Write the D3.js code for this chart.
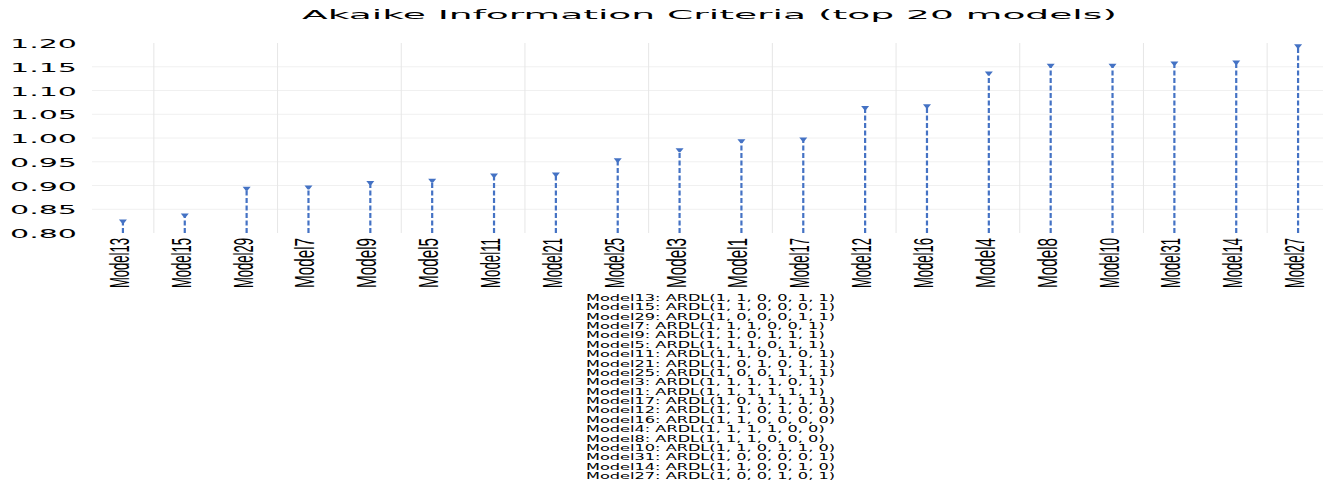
<!DOCTYPE html>
<html>
<head>
<meta charset="utf-8">
<script src="https://cdn.jsdelivr.net/npm/d3@7"></script>
<style>
  body { margin: 0; background: #fff; }
</style>
</head>
<body>
<div id="chart"></div>
<script>
// Models sorted by AIC (top 20)
const models = ["Model13", "Model15", "Model29", "Model7", "Model9", "Model5", "Model11", "Model21", "Model25", "Model3",
                "Model1", "Model17", "Model12", "Model16", "Model4", "Model8", "Model10", "Model31", "Model14", "Model27"];
const aicValues = [0.823, 0.836, 0.892, 0.895, 0.904, 0.909, 0.920, 0.922, 0.952, 0.973,
                   0.992, 0.996, 1.062, 1.066, 1.135, 1.151, 1.151, 1.156, 1.158, 1.192];
const specs = ["ARDL(1, 1, 0, 0, 1, 1)", "ARDL(1, 1, 0, 0, 0, 1)", "ARDL(1, 0, 0, 0, 1, 1)", "ARDL(1, 1, 1, 0, 0, 1)",
               "ARDL(1, 1, 0, 1, 1, 1)", "ARDL(1, 1, 1, 0, 1, 1)", "ARDL(1, 1, 0, 1, 0, 1)", "ARDL(1, 0, 1, 0, 1, 1)",
               "ARDL(1, 0, 0, 1, 1, 1)", "ARDL(1, 1, 1, 1, 0, 1)", "ARDL(1, 1, 1, 1, 1, 1)", "ARDL(1, 0, 1, 1, 1, 1)",
               "ARDL(1, 1, 0, 1, 0, 0)", "ARDL(1, 1, 0, 0, 0, 0)", "ARDL(1, 1, 1, 1, 0, 0)", "ARDL(1, 1, 1, 0, 0, 0)",
               "ARDL(1, 1, 0, 1, 1, 0)", "ARDL(1, 0, 0, 0, 0, 1)", "ARDL(1, 1, 0, 0, 1, 0)", "ARDL(1, 0, 0, 1, 0, 1)"];
const yTicks = [0.80, 0.85, 0.90, 0.95, 1.00, 1.05, 1.10, 1.15, 1.20];

const data = models.map((m, i) => ({ model: m, aic: aicValues[i], spec: specs[i] }));

const width = 1323, height = 488;
const margin = { top: 43, bottom: 255, left: 92, right: -6 };
const blue = "#4472C4";

const svg = d3.select("#chart")
    .append("svg")
    .attr("width", width)
    .attr("height", height);

// Scales
const x = d3.scaleBand()
    .domain(models)
    .range([margin.left, width - margin.right]);

const y = d3.scaleLinear()
    .domain([0.8, 1.2])
    .range([height - margin.bottom, margin.top]);

// Horizontal gridlines
svg.append("g")
    .selectAll("line")
    .data(yTicks.slice(1, -1))
    .enter()
    .append("line")
    .attr("x1", margin.left)
    .attr("x2", width)
    .attr("y1", d => y(d))
    .attr("y2", d => y(d))
    .attr("stroke", "#f0f0f0")
    .attr("stroke-width", 1);

// Vertical gridlines every second category
svg.append("g")
    .selectAll("line")
    .data(models.filter((m, i) => i % 2 === 0))
    .enter()
    .append("line")
    .attr("x1", d => x(d) + x.step())
    .attr("x2", d => x(d) + x.step())
    .attr("y1", y(1.2))
    .attr("y2", y(0.8))
    .attr("stroke", "#e6e6e6")
    .attr("stroke-width", 1);

// Y axis
const yAxis = svg.append("g")
    .attr("transform", `translate(77,0)`)
    .call(d3.axisLeft(y).tickValues(yTicks).tickFormat(d3.format(".2f")).tickSize(0).tickPadding(0));
yAxis.select(".domain").remove();
yAxis.selectAll("text")
    .attr("font-family", "DejaVu Sans")
    .attr("font-size", 13)
    .attr("fill", "#000")
    .attr("dy", "0.36em")
    .attr("textLength", 67)
    .attr("lengthAdjust", "spacingAndGlyphs");

// X axis labels (rotated, condensed)
const xAxis = svg.append("g")
    .attr("transform", `translate(0,${y(0.8)})`)
    .call(d3.axisBottom(x).tickSize(0).tickPadding(0));
xAxis.select(".domain").remove();
xAxis.selectAll("text")
    .attr("font-family", "'Liberation Sans', Arial, sans-serif")
    .attr("font-size", 28)
    .attr("fill", "#000")
    .attr("text-anchor", "end")
    .attr("dy", null)
    .attr("y", 0)
    .attr("transform", "translate(6,5) rotate(-90)")
    .attr("textLength", 50)
    .attr("lengthAdjust", "spacingAndGlyphs");

// Dashed drop lines
svg.append("g")
    .selectAll("line")
    .data(data)
    .enter()
    .append("line")
    .attr("x1", d => x(d.model) + x.bandwidth() / 2)
    .attr("x2", d => x(d.model) + x.bandwidth() / 2)
    .attr("y1", y(0.8))
    .attr("y2", d => y(d.aic))
    .attr("stroke", blue)
    .attr("stroke-width", 2.2)
    .attr("stroke-dasharray", "5,2.5");

// Triangle markers at the top
svg.append("g")
    .selectAll("path")
    .data(data)
    .enter()
    .append("path")
    .attr("transform", d => `translate(${x(d.model) + x.bandwidth() / 2},${y(d.aic)})`)
    .attr("d", "M-4,-2.5L4,-2.5L0.8,1.5L-0.8,1.5Z")
    .attr("fill", blue);

// Title
svg.append("text")
    .attr("x", 302)
    .attr("y", 18.5)
    .attr("font-family", "DejaVu Sans")
    .attr("font-size", 13)
    .attr("fill", "#000")
    .attr("textLength", 815)
    .attr("lengthAdjust", "spacingAndGlyphs")
    .text("Akaike Information Criteria (top 20 models)");

// Model specification list below the chart
const legend = svg.append("g")
    .attr("transform", "translate(586,0)");
const legendText = legend.selectAll("text")
    .data(data)
    .enter()
    .append("text")
    .attr("x", 0)
    .attr("y", (d, i) => 301 + i * 9.37)
    .attr("font-family", "DejaVu Sans")
    .attr("font-size", 8.5)
    .attr("fill", "#000")
    .text(d => `${d.model}: ${d.spec}`);

// stretch the list horizontally to match the original rendering
const firstW = legendText.node().getComputedTextLength();
const k = 249 / firstW;
legendText.each(function() {
    const w = this.getComputedTextLength();
    d3.select(this)
        .attr("textLength", w * k)
        .attr("lengthAdjust", "spacingAndGlyphs");
});
</script>
</body>
</html>
